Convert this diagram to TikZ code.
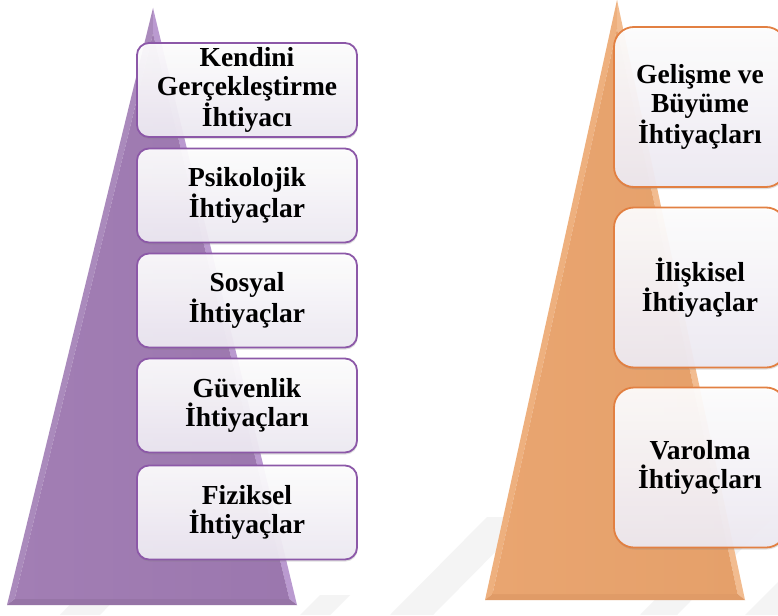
\documentclass[tikz,border=0pt]{standalone}
\usepackage{fontspec}
\setmainfont{Liberation Serif}
\usetikzlibrary{shadows}

% pyramid colours
\definecolor{purpMain}{RGB}{162,126,180}
\definecolor{purpMainR}{RGB}{155,119,174}
\definecolor{purpLeft}{RGB}{170,138,188}
\definecolor{purpRight}{RGB}{186,154,208}
\definecolor{purpBottom}{RGB}{150,116,166}
\definecolor{purpLine}{RGB}{140,88,168}
\definecolor{orMain}{RGB}{233,165,112}
\definecolor{orMainR}{RGB}{229,160,106}
\definecolor{orLeft}{RGB}{238,176,126}
\definecolor{orRight}{RGB}{242,188,144}
\definecolor{orBottom}{RGB}{224,155,103}
\definecolor{orLine}{RGB}{226,128,66}
\definecolor{boxLow}{RGB}{238,234,243}
\definecolor{markGray}{RGB}{244,244,244}

\tikzset{
  needbox/.style={
    rounded corners=12pt, line width=1.8pt, align=center,
    font=\fontsize{27.5}{29}\selectfont\bfseries,
    top color=white, bottom color=boxLow, fill opacity=0.93, text opacity=1,
    drop shadow={shadow xshift=0.6pt, shadow yshift=-2pt, opacity=0.25},
    inner sep=2pt},
  lbox/.style={needbox, draw=purpLine, minimum width=220pt, minimum height=94pt},
  rbox/.style={needbox, draw=orLine, rounded corners=20pt,
    minimum width=172pt, minimum height=160pt},
  band/.style={fill=markGray, draw=none}
}

\begin{document}
\begin{tikzpicture}[x=1pt, y=-1pt]
\useasboundingbox (0,0) rectangle (778,615);
\clip (0,0) rectangle (778,615);
\fill[white] (0,0) rectangle (778,615);

% faint background stripes along the bottom
\fill[band] (60,615) -- (155,515) -- (195,515) -- (100,615) -- cycle;
\fill[band] (390,615) -- (487,517) -- (530,517) -- (433,615) -- cycle;
\fill[band] (300,615) -- (320,595) -- (350,595) -- (330,615) -- cycle;
\fill[band] (640,615) -- (735,518) -- (772,518) -- (677,615) -- cycle;
\fill[band] (745,615) -- (778,582) -- (778,615) -- cycle;

% left pyramid: bevelled triangle
\coordinate (LA) at (153,8);
\coordinate (LB) at (7,605);
\coordinate (LC) at (297,605);
\coordinate (La) at (153,33.4);
\coordinate (Lb) at (14.6,599);
\coordinate (Lc) at (289.4,599);
\fill[purpLeft] (LA) -- (LB) -- (Lb) -- (La) -- cycle;
\fill[purpRight] (LA) -- (LC) -- (Lc) -- (La) -- cycle;
\fill[purpBottom] (LB) -- (LC) -- (Lc) -- (Lb) -- cycle;
\shade[left color=purpMain, right color=purpMainR] (La) -- (Lb) -- (Lc) -- cycle;

% right pyramid: bevelled triangle
\coordinate (RA) at (617,0);
\coordinate (RB) at (485,600);
\coordinate (RC) at (745,600);
\coordinate (Ra) at (617,28.3);
\coordinate (Rb) at (492.5,594);
\coordinate (Rc) at (737.6,594);
\fill[orLeft] (RA) -- (RB) -- (Rb) -- (Ra) -- cycle;
\fill[orRight] (RA) -- (RC) -- (Rc) -- (Ra) -- cycle;
\fill[orBottom] (RB) -- (RC) -- (Rc) -- (Rb) -- cycle;
\shade[left color=orMain, right color=orMainR] (Ra) -- (Rb) -- (Rc) -- cycle;

% needs hierarchy (left)
\node[lbox] (kg) at (247,90)    {Kendini\\Gerçekleştirme\\İhtiyacı};
\node[lbox] (ps) at (247,195.5) {Psikolojik\\İhtiyaçlar};
\node[lbox] (so) at (247,300.5) {Sosyal\\İhtiyaçlar};
\node[lbox] (gu) at (247,405.5) {Güvenlik\\İhtiyaçları};
\node[lbox] (fi) at (247,512.5) {Fiziksel\\İhtiyaçlar};

% ERG levels (right)
\node[rbox] (gb) at (700,107) {Gelişme ve\\Büyüme\\İhtiyaçları};
\node[rbox] (il) at (700,287.5) {İlişkisel\\İhtiyaçlar};
\node[rbox] (va) at (700,467.5) {Varolma\\İhtiyaçları};
\end{tikzpicture}
\end{document}
